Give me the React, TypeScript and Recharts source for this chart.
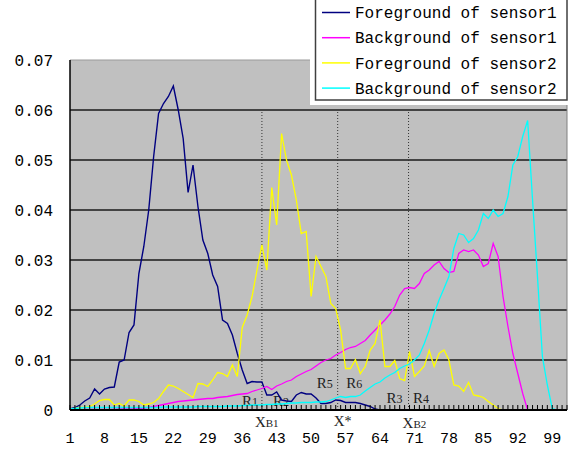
import React from "react";
import { LineChart, Line, XAxis, YAxis, CartesianGrid, ReferenceLine } from "recharts";

const categories = Array.from({ length: 102 }, (_, i) => i + 1);
const xTickLabels = [1, 8, 15, 22, 29, 36, 43, 50, 57, 64, 71, 78, 85, 92, 99];
const yTicks = [0, 0.01, 0.02, 0.03, 0.04, 0.05, 0.06, 0.07];
const gridValues = [0.01, 0.02, 0.03, 0.04, 0.05, 0.06];

const fgSensor1 = [
  0.0002, 0.0005, 0.001, 0.0018, 0.0024, 0.0042, 0.0032, 0.0042, 0.0045, 0.0046,
  0.0096, 0.01, 0.0155, 0.017, 0.0273, 0.0327, 0.04, 0.0507, 0.0593, 0.0613,
  0.0627, 0.0648, 0.06, 0.0543, 0.0435, 0.049, 0.0407, 0.034, 0.0313, 0.027,
  0.0247, 0.018, 0.0173, 0.015, 0.0113, 0.008, 0.0053, 0.0057, 0.0056, 0.0056,
  0.003, 0.003, 0.0036, 0.002, 0.0018, 0.0017, 0.003, 0.0035, 0.0032, 0.0032,
  0.0024, 0.0013, 0.0013, 0.0015, 0.002, 0.0019, 0.0015, 0.0015, 0.0015, 0.0013,
  0.001, 0.0007, 0.0002, 0, 0, 0, 0, 0, 0, 0,
  0, 0, 0, 0, 0, 0, 0, 0, 0, 0,
  0, 0, 0, 0, 0, 0, 0, 0, 0, 0,
  0, 0, 0, 0, 0, 0, 0, 0, 0, 0,
  0, 0,
];

const bgSensor1 = [
  0, 0, 0, 0.0001, 0.0001, 0.0001, 0.0001, 0.0001, 0.0001, 0.0001,
  0.0002, 0.0002, 0.0002, 0.0002, 0.0003, 0.0004, 0.0005, 0.0007, 0.0009, 0.0011,
  0.0013, 0.0015, 0.0017, 0.0018, 0.0019, 0.002, 0.0021, 0.0022, 0.0023, 0.0023,
  0.0025, 0.0026, 0.0027, 0.0029, 0.0031, 0.0032, 0.0033, 0.0037, 0.004, 0.0043,
  0.0047, 0.0041, 0.0048, 0.0052, 0.0057, 0.006, 0.0067, 0.0072, 0.0077, 0.0081,
  0.0088, 0.0095, 0.01, 0.0103, 0.011, 0.0115, 0.0121, 0.0125, 0.0127, 0.0133,
  0.0139, 0.015, 0.016, 0.017, 0.018, 0.0192, 0.0207, 0.023, 0.0243, 0.0245,
  0.0243, 0.0253, 0.0273, 0.028, 0.029, 0.0297, 0.0283, 0.0275, 0.0277, 0.0313,
  0.032, 0.0317, 0.032, 0.031, 0.0287, 0.0293, 0.0333, 0.0307, 0.0227, 0.0167,
  0.0113, 0.0073, 0.0033, 0, 0, 0, 0, 0, 0, 0,
  0, 0,
];

const fgSensor2 = [
  0.0001, 0.0003, 0.0005, 0.0005, 0.0007, 0.0012, 0.0019, 0.0021, 0.0021, 0.001,
  0.0013, 0.0008, 0.002, 0.002, 0.0017, 0.001, 0.0012, 0.0015, 0.0023, 0.0037,
  0.005, 0.0048, 0.0043, 0.0037, 0.0031, 0.0025, 0.0053, 0.0052, 0.0047, 0.006,
  0.0075, 0.0073, 0.0067, 0.009, 0.0067, 0.0165, 0.019, 0.0227, 0.028, 0.033,
  0.028, 0.0445, 0.037, 0.0553, 0.05, 0.047, 0.042, 0.0353, 0.0357, 0.0227,
  0.0307, 0.0287, 0.0267, 0.0213, 0.0203, 0.016, 0.0083, 0.0083, 0.0101, 0.0073,
  0.0087, 0.012, 0.0133, 0.018, 0.0087, 0.0087, 0.0099, 0.0063, 0.0059, 0.0117,
  0.0067, 0.0077, 0.0088, 0.0119, 0.0087, 0.0113, 0.012, 0.01, 0.005, 0.0048,
  0.0037, 0.0055, 0.003, 0.0028, 0.0025, 0.0017, 0.001, 0.0003, 0, 0,
  0, 0, 0, 0, 0, 0, 0, 0, 0, 0,
  0, 0,
];

const bgSensor2 = [
  0.0002, 0.0003, 0.0004, 0.0005, 0.0005, 0.0005, 0.0005, 0.0005, 0.0005, 0.0005,
  0.0005, 0.0005, 0.0005, 0.0005, 0.0005, 0.0005, 0.0005, 0.0005, 0.0005, 0.0006,
  0.0006, 0.0006, 0.0006, 0.0006, 0.0006, 0.0006, 0.0007, 0.0007, 0.0007, 0.0007,
  0.0007, 0.0007, 0.0008, 0.0008, 0.0008, 0.0009, 0.0009, 0.001, 0.001, 0.001,
  0.0011, 0.0011, 0.0012, 0.0012, 0.0013, 0.0014, 0.0014, 0.0015, 0.0015, 0.0015,
  0.0016, 0.0016, 0.0017, 0.002, 0.0024, 0.0027, 0.0025, 0.0027, 0.0027, 0.003,
  0.0038, 0.0045, 0.0052, 0.0056, 0.0064, 0.007, 0.0075, 0.0083, 0.0088, 0.0092,
  0.01, 0.011, 0.0133, 0.016, 0.0193, 0.022, 0.0243, 0.0267, 0.0323, 0.0353,
  0.035, 0.0335, 0.0343, 0.036, 0.0393, 0.0383, 0.04, 0.0387, 0.0393, 0.0427,
  0.049, 0.0507, 0.0547, 0.0579, 0.042, 0.0267, 0.0107, 0.005, 0.0003, 0,
  0, 0,
];

const seriesKeys = ["fg1", "bg1", "fg2", "bg2"];
const seriesNames = [
  "Foreground of sensor1",
  "Background of sensor1",
  "Foreground of sensor2",
  "Background of sensor2",
];
const seriesColors = ["#000080", "#FF00FF", "#FFFF00", "#00FFFF"];
const seriesWidths = [1.4, 1.3, 1.3, 1.3];

// vertical markers (category positions)
const markerX = [40, 55.4, 69.8];
const markerTop = 0.06;
const markerMain = ["X", "X", "X"];
const markerSub = ["B1", "*", "B2"];
const regionLeft = ["R1", "R5", "R3"];
const regionRight = ["R2", "R6", "R4"];

// label placement (pixels, styling only)
const nameDx = [-7, -4, -6];
const nameDy = [17, 16, 18];
const leftDx = [-4, -5, -6];
const rightDx = [11, 8.5, 4.5];
const regionDy = [-4, -22, -7];

const data = categories.map((c, i) => ({
  c,
  fg1: fgSensor1[i],
  bg1: bgSensor1[i],
  fg2: fgSensor2[i],
  bg2: bgSensor2[i],
}));

const monoFont = "'Liberation Mono', 'DejaVu Sans Mono', monospace";
const serifFont = "'Liberation Serif', 'DejaVu Serif', serif";

const XTick = (props: any) => {
  const { x, y, payload } = props;
  const v = payload.value;
  const labeled = xTickLabels.includes(v);
  return (
    <g>
      <line x1={x} x2={x} y1={y - 5} y2={y} stroke="#000" strokeWidth={1} />
      {labeled && (
        <text x={x} y={y + 33} textAnchor="middle" fontFamily={monoFont} fontSize={15} fill="#000">
          {v}
        </text>
      )}
    </g>
  );
};

const MarkerLabel = (props: any) => {
  const { viewBox, idx } = props;
  if (!viewBox) return null;
  const x = viewBox.x;
  const bottom = viewBox.y + viewBox.height;
  const rl = regionLeft[idx];
  const rr = regionRight[idx];
  return (
    <g fill="#222" fontFamily={serifFont}>
      <text x={x + leftDx[idx]} y={bottom + regionDy[idx]} textAnchor="end">
        <tspan fontSize={15}>{rl.slice(0, 1)}</tspan>
        <tspan fontSize={12}>{rl.slice(1)}</tspan>
      </text>
      <text x={x + rightDx[idx]} y={bottom + regionDy[idx]} textAnchor="start">
        <tspan fontSize={15}>{rr.slice(0, 1)}</tspan>
        <tspan fontSize={12}>{rr.slice(1)}</tspan>
      </text>
      <text x={x + nameDx[idx]} y={bottom + nameDy[idx]} textAnchor="start">
        <tspan fontSize={15}>{markerMain[idx]}</tspan>
        <tspan fontSize={markerSub[idx] === "*" ? 14 : 11}>{markerSub[idx]}</tspan>
      </text>
    </g>
  );
};

const LegendBox = () => (
  <div
    style={{
      position: "absolute",
      left: 310,
      top: 0,
      width: 260,
      height: 105,
      background: "#fff",
    }}
  >
    <svg width={260} height={105} style={{ display: "block" }}>
      <rect x={5.5} y={-2} width={251.5} height={102} fill="#fff" stroke="#404040" strokeWidth={1.5} />
      {seriesNames.map((name, i) => (
        <g key={name}>
          <line
            x1={12}
            x2={40}
            y1={12.5 + i * 25.2}
            y2={12.5 + i * 25.2}
            stroke={seriesColors[i]}
            strokeWidth={1.5}
          />
          <text
            x={45}
            y={12.5 + i * 25.2}
            dy="0.35em"
            fontFamily={monoFont}
            fontSize={16}
            fill="#000"
          >
            {name}
          </text>
        </g>
      ))}
    </svg>
  </div>
);

export default function App() {
  return (
    <div style={{ position: "absolute", left: 0, top: 0, width: 570, height: 453, background: "#fff" }}>
      <LineChart
        width={570}
        height={453}
        data={data}
        margin={{ top: 60, right: 3, bottom: 0, left: 0 }}
      >
        <CartesianGrid
          fill="#C0C0C0"
          fillOpacity={1}
          vertical={false}
          horizontal={true}
          horizontalValues={gridValues}
          stroke="#1a1a1a"
          strokeWidth={1.5}
          strokeDasharray=""
        />
        <XAxis
          dataKey="c"
          type="number"
          domain={[1, 102]}
          ticks={categories}
          interval={0}
          tick={<XTick />}
          tickLine={false}
          tickSize={0}
          tickMargin={0}
          height={43}
          axisLine={{ stroke: "#000", strokeWidth: 2 }}
          allowDecimals={false}
        />
        <YAxis
          type="number"
          domain={[0, 0.07]}
          ticks={yTicks}
          interval={0}
          width={70}
          tickLine={false}
          tickSize={0}
          tickMargin={17}
          axisLine={{ stroke: "#000", strokeWidth: 1.5 }}
          tick={{ fontFamily: monoFont, fontSize: 16, fill: "#000" }}
          tickFormatter={(v: number) => (v === 0 ? "0" : v.toFixed(2))}
        />
        <ReferenceLine y={0.07} stroke="#9a9a9a" strokeWidth={1} />
        <ReferenceLine x={102} stroke="#808080" strokeWidth={1} />
        {markerX.map((mx, i) => (
          <ReferenceLine
            key={"m" + i}
            segment={[
              { x: mx, y: 0 },
              { x: mx, y: markerTop },
            ]}
            stroke="#333"
            strokeWidth={1}
            strokeDasharray="1 2"
            label={<MarkerLabel idx={i} />}
          />
        ))}
        {seriesKeys.map((k, i) => (
          <Line
            key={k}
            type="linear"
            dataKey={k}
            name={seriesNames[i]}
            stroke={seriesColors[i]}
            strokeWidth={seriesWidths[i]}
            dot={false}
            activeDot={false}
            isAnimationActive={false}
          />
        ))}
      </LineChart>
      <LegendBox />
    </div>
  );
}
